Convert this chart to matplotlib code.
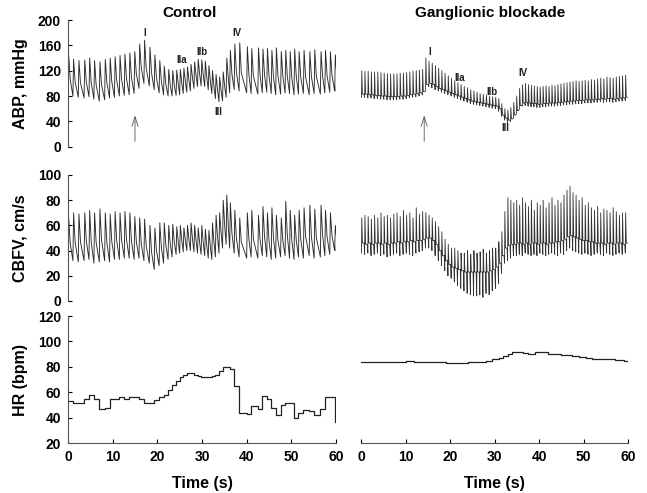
import numpy as np
import matplotlib.pyplot as plt

plt.rcParams['font.family'] = ['Liberation Sans', 'DejaVu Sans']
plt.rcParams['font.weight'] = 'bold'

# ---------------- Control (left column) ----------------
beats_c = [0.0, 1.1, 2.3, 3.6, 4.7, 5.8, 7.0, 8.2, 9.3, 10.4,
           11.5, 12.6, 13.7, 14.8, 15.9, 17.0, 18.2, 19.3, 20.4, 21.4,
           22.4, 23.3, 24.2, 25.0, 25.8, 26.6, 27.4, 28.2, 29.0, 29.8,
           30.6, 31.4, 32.2, 33.0, 33.8, 34.6, 35.4, 36.2, 37.2, 38.3,
           40.0, 41.0, 42.5, 43.5, 44.5, 45.5, 46.5, 47.6, 48.6, 49.6,
           50.6, 51.6, 52.7, 54.0, 55.1, 56.5, 57.5, 58.6, 59.7]
hr_c = [53, 52, 52, 55, 58, 55, 47, 48, 55, 55,
        56, 55, 56, 56, 55, 52, 52, 54, 56, 58,
        62, 66, 69, 72, 74, 75, 75, 74, 73, 72,
        72, 72, 73, 74, 77, 80, 80, 78, 65, 44,
        43, 49, 47, 57, 55, 48, 42, 50, 52, 52,
        40, 44, 46, 45, 42, 47, 56, 56, 37]
abp_sys_c = [145, 138, 136, 137, 140, 136, 134, 138, 140, 142,
             144, 146, 148, 150, 162, 168, 157, 145, 136, 127,
             122, 120, 121, 122, 124, 126, 130, 134, 138, 137,
             135, 128, 120, 114, 110, 118, 140, 152, 162, 164,
             158, 155, 156, 154, 155, 152, 156, 150, 152, 150,
             154, 150, 152, 150, 153, 150, 152, 150, 145]
abp_dia_c = [85, 80, 78, 77, 79, 75, 72, 74, 77, 78,
             80, 81, 82, 84, 92, 100, 96, 90, 85, 82,
             80, 80, 81, 82, 84, 86, 88, 92, 95, 96,
             95, 90, 84, 76, 71, 72, 78, 85, 90, 88,
             85, 84, 83, 85, 86, 84, 82, 83, 85, 84,
             82, 83, 84, 82, 84, 83, 85, 86, 88]
cbfv_sys_c = [66, 70, 69, 70, 72, 70, 73, 70, 69, 71,
              70, 71, 70, 67, 66, 65, 60, 58, 62, 62,
              60, 61, 59, 60, 58, 60, 62, 60, 58, 60,
              57, 56, 62, 68, 70, 80, 84, 78, 72, 66,
              70, 72, 68, 75, 70, 74, 68, 66, 79, 72,
              68, 72, 74, 76, 73, 76, 72, 70, 60]
cbfv_dia_c = [36, 32, 31, 32, 33, 30, 31, 32, 31, 33,
              33, 34, 34, 33, 34, 32, 30, 25, 28, 30,
              33, 35, 37, 38, 39, 40, 40, 39, 38, 37,
              36, 34, 33, 35, 38, 42, 45, 42, 38, 35,
              34, 35, 34, 36, 35, 33, 34, 35, 36, 34,
              33, 35, 34, 36, 34, 35, 36, 37, 40]

# ---------------- Ganglionic blockade (right column) ----------------
beats_g = [0.1, 0.82, 1.54, 2.26, 2.98, 3.7, 4.42, 5.14, 5.86, 6.58,
           7.3, 8.02, 8.74, 9.46, 10.18, 10.9, 11.62, 12.34, 13.06, 13.78,
           14.5, 15.22, 15.94, 16.66, 17.38, 18.1, 18.82, 19.54, 20.26, 20.98,
           21.7, 22.42, 23.14, 23.86, 24.58, 25.3, 26.0, 26.7, 27.4, 28.1,
           28.8, 29.5, 30.2, 30.9, 31.58, 32.26, 32.94, 33.6, 34.26, 34.92,
           35.58, 36.24, 36.9, 37.56, 38.22, 38.88, 39.54, 40.2, 40.86, 41.52,
           42.18, 42.85, 43.52, 44.19, 44.86, 45.54, 46.22, 46.9, 47.58, 48.26,
           48.94, 49.63, 50.32, 51.01, 51.7, 52.4, 53.1, 53.8, 54.5, 55.2,
           55.9, 56.6, 57.3, 58.0, 58.7, 59.4]
abp_sys_g = [120, 119, 119, 118, 118, 118, 117, 116, 115, 115,
             115, 115, 116, 116, 117, 118, 119, 120, 121, 122,
             140, 135, 132, 128, 124, 120, 116, 112, 108, 104,
             101, 98, 95, 93, 90, 88, 86, 84, 83, 82,
             80, 79, 78, 76, 68, 60, 58, 62, 70, 80,
             92, 98, 100, 98, 97, 96, 95, 94, 95, 96,
             95, 97, 96, 98, 99, 100, 101, 102, 103, 104,
             103, 104, 105, 104, 106, 105, 107, 108, 107, 110,
             109, 108, 110, 111, 112, 113]
abp_mid_g = [83, 83, 82, 82, 81, 81, 80, 80, 79, 79,
             79, 79, 80, 80, 81, 82, 83, 84, 85, 87,
             98, 100, 98, 95, 92, 90, 88, 86, 84, 82,
             80, 78, 76, 74, 72, 71, 70, 69, 68, 67,
             66, 65, 64, 60, 50, 45, 42, 44, 50, 57,
             65, 69, 70, 69, 68, 68, 67, 67, 68, 68,
             69, 69, 69, 70, 70, 71, 71, 72, 72, 73,
             73, 73, 74, 74, 74, 75, 75, 76, 75, 76,
             76, 75, 76, 77, 77, 78]
abp_dia_g = [78, 78, 77, 77, 76, 76, 75, 75, 74, 74,
             74, 74, 75, 75, 76, 77, 78, 79, 80, 82,
             88, 95, 93, 90, 88, 86, 84, 82, 80, 78,
             76, 74, 72, 70, 68, 67, 66, 65, 64, 63,
             62, 61, 60, 56, 48, 42, 38, 40, 45, 52,
             60, 64, 65, 64, 63, 63, 62, 62, 63, 63,
             64, 64, 64, 65, 65, 66, 66, 67, 67, 68,
             68, 68, 69, 69, 69, 70, 70, 71, 70, 71,
             71, 70, 71, 72, 72, 73]
cbfv_sys_g = [66, 68, 67, 65, 68, 66, 70, 67, 68, 66,
              69, 70, 67, 72, 68, 70, 66, 74, 69, 71,
              70, 68, 66, 63, 59, 55, 49, 45, 42, 42,
              40, 38, 38, 40, 37, 40, 38, 39, 41, 38,
              40, 42, 42, 47, 55, 71, 82, 80, 78, 80,
              76, 82, 78, 75, 80, 72, 78, 76, 80, 74,
              78, 82, 76, 80, 78, 84, 88, 91, 86, 84,
              80, 82, 76, 78, 74, 72, 75, 70, 73, 72,
              70, 74, 71, 68, 70, 70]
cbfv_mid_g = [46, 45, 46, 45, 46, 46, 45, 46, 45, 46,
              46, 47, 46, 47, 47, 48, 47, 48, 48, 49,
              50, 50, 48, 45, 40, 36, 32, 29, 27, 26,
              25, 24, 23, 23, 23, 23, 23, 23, 23, 23,
              24, 25, 27, 30, 36, 42, 44, 45, 45, 46,
              46, 45, 46, 45, 46, 46, 45, 46, 46, 45,
              46, 46, 47, 47, 48, 49, 51, 52, 51, 50,
              49, 48, 48, 47, 47, 46, 46, 46, 45, 46,
              46, 45, 46, 46, 45, 46]
cbfv_dia_g = [38, 37, 38, 36, 37, 38, 36, 37, 35, 36,
              37, 38, 36, 37, 38, 37, 36, 38, 39, 40,
              42, 42, 40, 36, 32, 28, 24, 20, 18, 15,
              12, 10, 8, 6, 5, 4, 4, 5, 3, 6,
              5, 8, 10, 14, 22, 30, 32, 34, 36, 36,
              37, 36, 38, 37, 36, 37, 36, 38, 37, 36,
              37, 38, 37, 36, 38, 37, 40, 42, 40, 39,
              38, 37, 38, 37, 36, 37, 38, 37, 36, 38,
              37, 36, 37, 38, 37, 38]
# HR under blockade: step breakpoints (s) and values (bpm)
hr_g_t = [0, 10, 12, 19, 24, 26, 28, 29.5, 31, 32, 33, 34, 36.5, 37.5, 39,
          42, 43.5, 45, 46.5, 47.5, 49, 50.5, 52, 54, 57, 59]
hr_g = [83.5, 84.5, 83.5, 82.8, 83.5, 84.2, 85, 86, 87, 88.5, 90, 92, 91, 90.3, 91.5,
        90.5, 90, 89.5, 89, 88.5, 88, 87, 86.5, 86, 85.5, 85]


def saw(beats, top, low, t_end=60.0):
    # sharp upstroke, quick fall-off, then slow run-off to the next beat
    xs, ys = [], []
    nxt = list(low[1:]) + [low[-1]]
    for t, hi, lo, lo2 in zip(beats, top, low, nxt):
        xs += [t, t + 0.15, t + 0.5]
        ys += [lo, hi, lo2 + 0.4 * (hi - lo2)]
    xs.append(t_end)
    ys.append(low[-1])
    return xs, ys


def spikes(beats, top, mid, low, t_end=60.0):
    xs, ys = [], []
    nxt = list(beats[1:]) + [t_end]
    for t, t2, hi, m, lo in zip(beats, nxt, top, mid, low):
        xs += [t, t + 0.07, t + 0.22, t2 - 0.12]
        ys += [lo, hi, m, m]
    return xs, ys


fig = plt.figure(figsize=(6.47, 4.93), dpi=100)
W, H = 647.0, 493.0


def make_ax(x0, x1, ytop, ybot):
    return fig.add_axes([x0 / W, 1 - ybot / H, (x1 - x0) / W, (ybot - ytop) / H])


lx0, lx1 = 68, 336
rx0, rx1 = 361, 628
ax_abp_c = make_ax(lx0, lx1, 20, 146.7)
ax_cbf_c = make_ax(lx0, lx1, 175, 301)
ax_hr_c = make_ax(lx0, lx1, 316, 443.3)
ax_abp_g = make_ax(rx0, rx1, 20, 146.7)
ax_cbf_g = make_ax(rx0, rx1, 175, 301)
ax_hr_g = make_ax(rx0, rx1, 316, 443.3)

trace = dict(color='#2b2b2b', lw=0.65)

x, y = saw(beats_c, abp_sys_c, abp_dia_c)
ax_abp_c.plot(x, y, **trace)
x, y = saw(beats_c, cbfv_sys_c, cbfv_dia_c)
ax_cbf_c.plot(x, y, **trace)
ax_hr_c.step(beats_c + [60], hr_c + [hr_c[-1]], where='post', color='#222', lw=0.9)

x, y = spikes(beats_g, abp_sys_g, abp_mid_g, abp_dia_g)
ax_abp_g.plot(x, y, color='#333', lw=0.6)
x, y = spikes(beats_g, cbfv_sys_g, cbfv_mid_g, cbfv_dia_g)
ax_cbf_g.plot(x, y, color='#333', lw=0.6)
ax_hr_g.step(hr_g_t + [60], hr_g + [hr_g[-1]], where='post', color='#222', lw=0.9)

for ax in fig.axes:
    ax.set_xlim(0, 60)
    for s in ['top', 'right', 'bottom', 'left']:
        ax.spines[s].set_visible(False)
    ax.tick_params(labelsize=10, direction='in', length=3, width=0.8, pad=5)
    ax.patch.set_alpha(0)

for ax in [ax_abp_c, ax_abp_g]:
    ax.set_ylim(0, 200)
for ax in [ax_cbf_c, ax_cbf_g]:
    ax.set_ylim(0, 100)
for ax in [ax_hr_c, ax_hr_g]:
    ax.set_ylim(20, 120)

ax_abp_c.set_yticks([0, 40, 80, 120, 160, 200])
ax_cbf_c.set_yticks([0, 20, 40, 60, 80, 100])
ax_hr_c.set_yticks([20, 40, 60, 80, 100, 120])
for ax in [ax_abp_c, ax_cbf_c, ax_hr_c]:
    ax.spines['left'].set_visible(True)
    ax.spines['left'].set_color('#555')
for ax in [ax_abp_c, ax_cbf_c, ax_abp_g, ax_cbf_g]:
    ax.set_xticks([])
for ax in [ax_abp_g, ax_cbf_g, ax_hr_g]:
    ax.set_yticks([])
for ax in [ax_hr_c, ax_hr_g]:
    ax.spines['bottom'].set_visible(True)
    ax.spines['bottom'].set_color('#555')
    ax.set_xticks([0, 10, 20, 30, 40, 50, 60])
    ax.set_xlabel('Time (s)', fontsize=11.5, fontweight='bold')
    ax.xaxis.set_label_coords(0.5, -0.255)

ax_abp_c.set_ylabel('ABP, mmHg', fontsize=11.5, fontweight='bold')
ax_cbf_c.set_ylabel('CBFV, cm/s', fontsize=11.5, fontweight='bold')
ax_hr_c.set_ylabel('HR (bpm)', fontsize=11.5, fontweight='bold')
for ax in [ax_abp_c, ax_cbf_c, ax_hr_c]:
    ax.yaxis.set_label_coords(-0.15, 0.5)

fig.text(190 / W, 1 - 13 / H, 'Control', fontsize=11, fontweight='bold', ha='center', va='center')
fig.text(490 / W, 1 - 13 / H, 'Ganglionic blockade', fontsize=11, fontweight='bold',
         ha='center', va='center')

# phase labels
lab = dict(fontsize=7, fontweight='bold', ha='center', va='center', color='#222')
ax_abp_c.text(17.2, 180, 'I', **lab)
ax_abp_c.text(25.5, 137, 'IIa', **lab)
ax_abp_c.text(30.0, 149, 'IIb', **lab)
ax_abp_c.text(33.6, 55, 'III', **lab)
ax_abp_c.text(37.8, 179, 'IV', **lab)
ax_abp_g.text(15.5, 149, 'I', **lab)
ax_abp_g.text(22.2, 108, 'IIa', **lab)
ax_abp_g.text(29.4, 86, 'IIb', **lab)
ax_abp_g.text(32.4, 29, 'III', **lab)
ax_abp_g.text(36.4, 116, 'IV', **lab)

arr = dict(arrowstyle='->,head_length=0.7,head_width=0.22', lw=0.6, color='#555')
ax_abp_c.annotate('', xy=(15.0, 54), xytext=(15.0, 4), arrowprops=arr, annotation_clip=False)
ax_abp_g.annotate('', xy=(14.2, 54), xytext=(14.2, 4), arrowprops=arr, annotation_clip=False)

fig.savefig('out.png', dpi=100)
